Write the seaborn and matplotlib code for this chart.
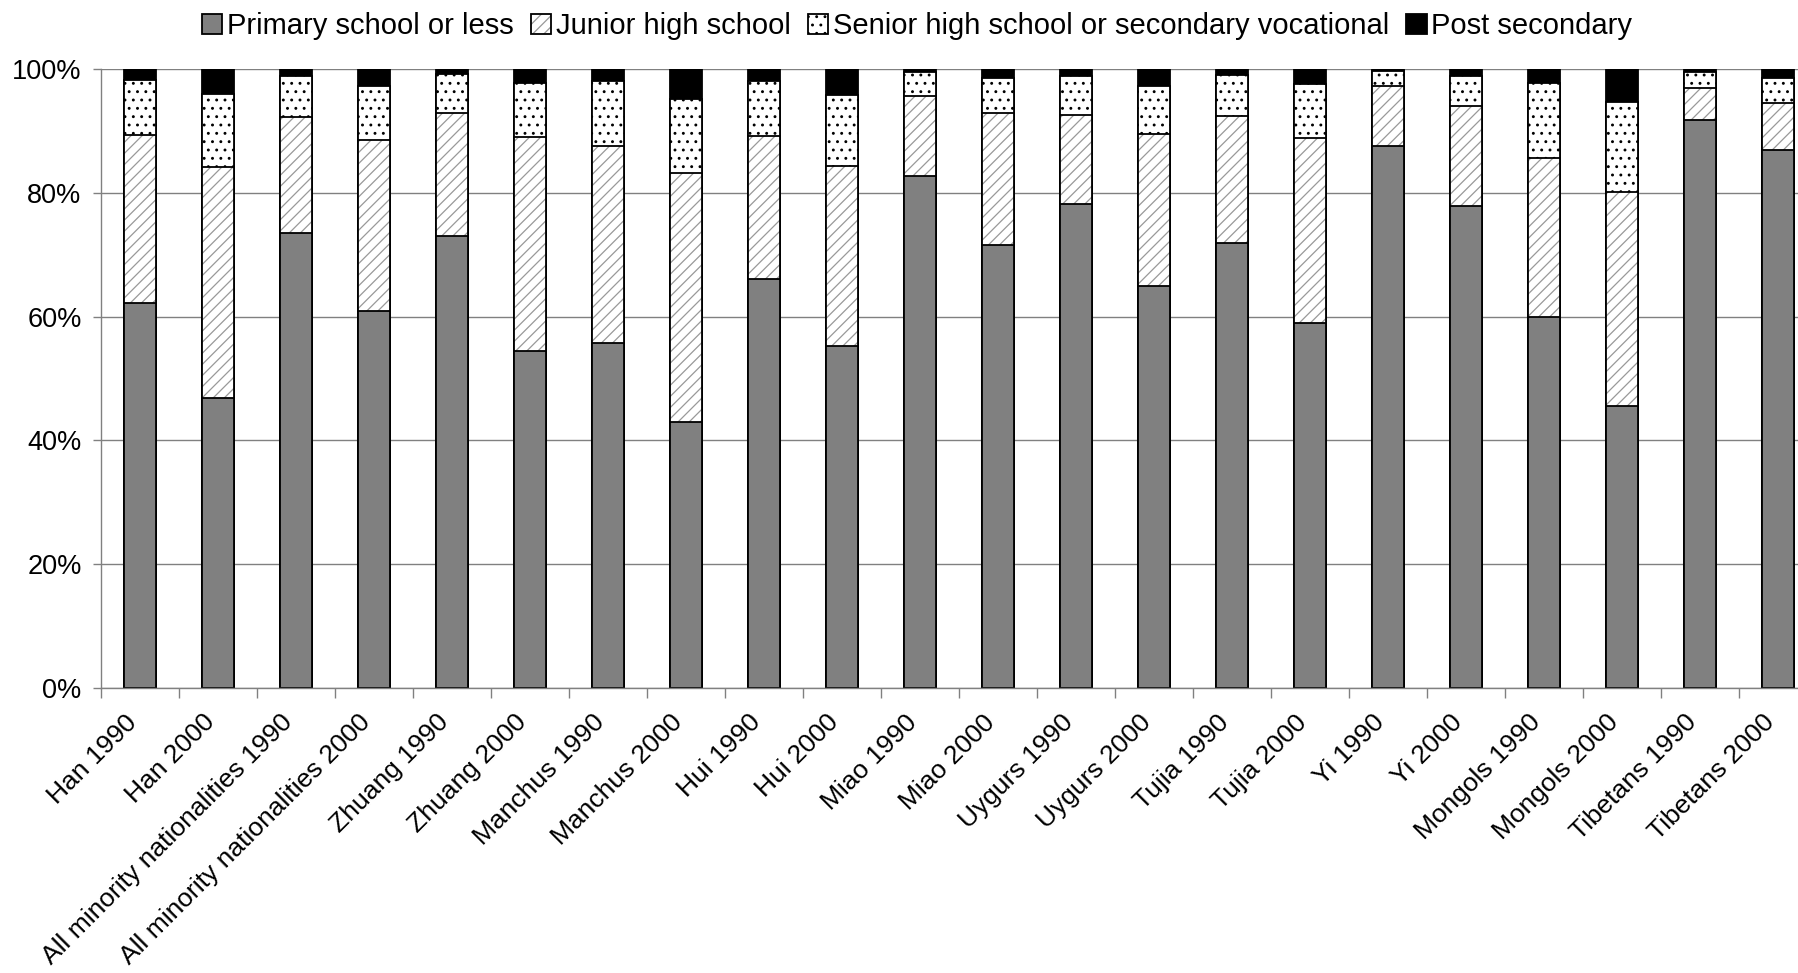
import numpy as np
import pandas as pd
import matplotlib
matplotlib.use("Agg")
import matplotlib.pyplot as plt
import matplotlib.transforms as mtransforms
from matplotlib.patches import Patch
from matplotlib.colors import to_rgba
import seaborn as sns

categories = ["Han 1990", "Han 2000", "All minority nationalities 1990",
              "All minority nationalities 2000", "Zhuang 1990", "Zhuang 2000",
              "Manchus 1990", "Manchus 2000", "Hui 1990", "Hui 2000",
              "Miao 1990", "Miao 2000", "Uygurs 1990", "Uygurs 2000",
              "Tujia 1990", "Tujia 2000", "Yi 1990", "Yi 2000",
              "Mongols 1990", "Mongols 2000", "Tibetans 1990", "Tibetans 2000"]
primary = [62.2, 46.9, 73.5, 60.9, 73.0, 54.4, 55.8, 42.9, 66.1, 55.3, 82.7,
           71.6, 78.2, 65.0, 71.9, 59.0, 87.5, 77.8, 59.9, 45.5, 91.8, 86.9]
junior = [27.1, 37.2, 18.8, 27.7, 19.9, 34.6, 31.7, 40.3, 23.1, 29.0, 13.0,
          21.3, 14.4, 24.5, 20.5, 29.8, 9.7, 16.3, 25.8, 34.6, 5.2, 7.6]
senior = [9.0, 11.9, 6.5, 8.6, 6.3, 8.8, 10.5, 11.9, 8.9, 11.5, 3.8,
          5.6, 6.2, 7.7, 6.7, 8.8, 2.5, 4.7, 12.0, 14.5, 2.5, 4.0]
post = [1.7, 4.0, 1.2, 2.8, 0.8, 2.2, 2.0, 4.9, 1.9, 4.2, 0.5,
        1.5, 1.2, 2.8, 0.9, 2.4, 0.3, 1.2, 2.3, 5.4, 0.5, 1.5]
series_names = ["Primary school or less", "Junior high school",
                "Senior high school or secondary vocational", "Post secondary"]
y_ticks = [0, 20, 40, 60, 80, 100]

sns.set_theme(style="white")
plt.rcParams['font.family'] = ['Liberation Sans', 'DejaVu Sans']
plt.rcParams['text.color'] = 'black'
plt.rcParams['xtick.color'] = 'black'
plt.rcParams['ytick.color'] = 'black'
plt.rcParams['hatch.linewidth'] = 0.9

df = pd.DataFrame({"category": categories, "primary": primary, "junior": junior,
                   "senior": senior, "post": post})
total = df[["primary", "junior", "senior", "post"]].sum(axis=1)
for c in ["primary", "junior", "senior", "post"]:
    df[c] = df[c] / total * 100
df["c_primary"] = df["primary"]
df["c_junior"] = df["c_primary"] + df["junior"]
df["c_senior"] = df["c_junior"] + df["senior"]
df["c_post"] = df["c_senior"] + df["post"]

W, H = 1798, 973
fig = plt.figure(figsize=(W / 100, H / 100), dpi=100)
ax = fig.add_axes([101 / W, 1 - 688 / H, (1817 - 101) / W, (688 - 69) / H])

GRAY = "#808080"
HATCH_GRAY = "#999999"
layers = [("c_post", "black", None), ("c_senior", "white", ".."),
          ("c_junior", "white", "///"), ("c_primary", GRAY, None)]
for col, face, hatch in layers:
    n0 = len(ax.patches)
    kw = {} if hatch is None else {"hatch": hatch}
    sns.barplot(data=df, x="category", y=col, order=categories, color=face,
                saturation=1, width=0.4, edgecolor="black", linewidth=1.3,
                errorbar=None, ax=ax, **kw)
    if col == "c_junior":
        for p in ax.patches[n0:]:
            p._hatch_color = to_rgba(HATCH_GRAY)

ax.set_xlim(-0.5, 21.5)
ax.set_ylim(0, 100)
ax.set_xlabel("")
ax.set_ylabel("")
ax.set_yticks(y_ticks)
ax.set_yticklabels([f"{v}%" for v in y_ticks], fontsize=19.5)
ax.yaxis.grid(True, color=GRAY, linewidth=1.0)
ax.xaxis.grid(False)
ax.set_axisbelow(True)
for s in ["top", "right"]:
    ax.spines[s].set_visible(False)
for s in ["left", "bottom"]:
    ax.spines[s].set_color(GRAY)
    ax.spines[s].set_linewidth(1.0)
ax.tick_params(axis="y", left=True, length=6, width=1, color=GRAY, pad=8)

ax.set_xticks(range(len(categories)))
ax.set_xticklabels(categories, rotation=45, ha="right", va="center",
                   rotation_mode="anchor", fontsize=19)
ax.set_xticks(np.arange(-0.5, len(categories), 1), minor=True)
ax.tick_params(axis="x", which="major", length=0, pad=22)
ax.tick_params(axis="x", which="minor", bottom=True, length=7, width=1, color=GRAY)
offset = mtransforms.ScaledTranslation(-0.07, 0, fig.dpi_scale_trans)
for lbl in ax.get_xticklabels():
    lbl.set_transform(lbl.get_transform() + offset)

h_primary = Patch(facecolor=GRAY, edgecolor="black", linewidth=1.3)
h_junior = Patch(facecolor="white", edgecolor="black", linewidth=1.3, hatch="///")
h_junior._hatch_color = to_rgba(HATCH_GRAY)
h_senior = Patch(facecolor="white", edgecolor="black", linewidth=1.3, hatch="..")
h_post = Patch(facecolor="black", edgecolor="black", linewidth=1.3)
fig.legend([h_primary, h_junior, h_senior, h_post], series_names, loc="center",
           bbox_to_anchor=(0.51, 0.973), ncol=4, frameon=False, fontsize=21,
           handlelength=0.7, handleheight=0.7, handletextpad=0.15,
           columnspacing=0.6, borderaxespad=0)

fig.savefig("out.png", dpi=100)
